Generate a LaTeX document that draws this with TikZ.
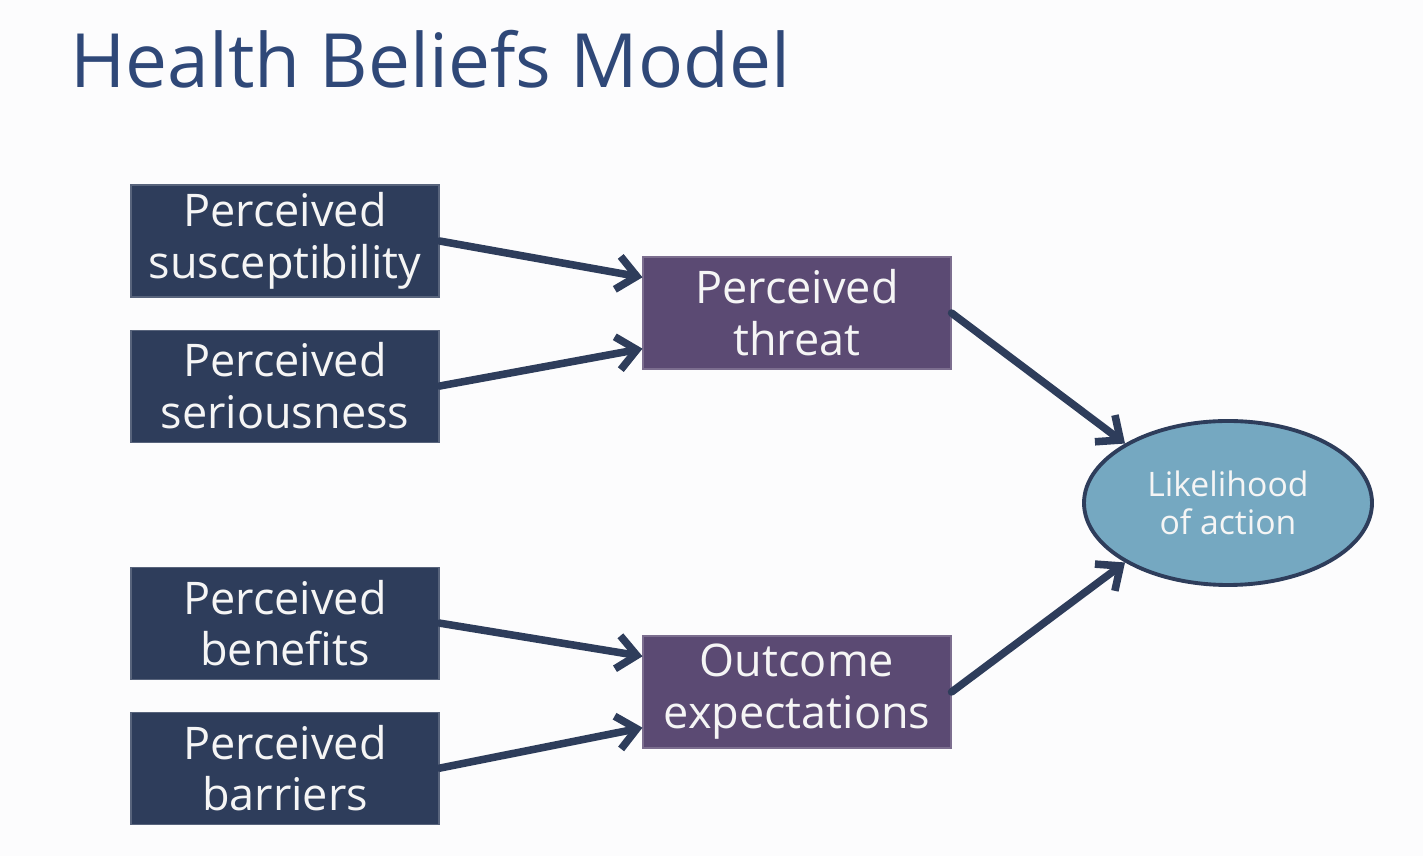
\documentclass[tikz,border=0pt]{standalone}
\usepackage{fontspec}
\setmainfont{Open Sans}
\usepackage{tikz}
\usetikzlibrary{shapes,arrows.meta,positioning,calc,shapes.geometric}

\definecolor{bgwhite}{HTML}{FCFCFD}
\definecolor{navybox}{HTML}{2E3D5B}
\definecolor{purplebox}{HTML}{5B4A73}
\definecolor{actionblue}{HTML}{75A8C1}
\definecolor{titleblue}{HTML}{2F4878}
\definecolor{boxtext}{HTML}{F5F5F5}

\begin{document}
\begin{tikzpicture}[
    belief/.style={rectangle, fill=navybox, draw=navybox!80!white, line width=0.6pt, minimum width=6.16cm, minimum height=2.24cm, inner sep=0pt, align=center, text=boxtext, font=\fontsize{25.6}{29.5}\selectfont},
    factor/.style={belief, fill=purplebox, draw=purplebox!80!white},
    outcome/.style={ellipse, fill=actionblue, draw=navybox, line width=2.2pt, minimum width=5.76cm, minimum height=3.28cm, inner sep=0pt, align=center, text=boxtext, font=\fontsize{19.2}{22}\selectfont},
    arrow/.style={-{Straight Barb[length=11pt, width=19pt]}, line width=4.3pt, line cap=round, draw=navybox}
]
    % background and page size
    \fill[bgwhite] (0,0) rectangle (28.46,17.12);
    \useasboundingbox (0,0) rectangle (28.46,17.12);

    \node[anchor=base west, text=titleblue, font=\fontsize{42.6}{48}\selectfont, inner sep=0pt] (title) at (1.40,15.36) {Health Beliefs Model};

    \node[belief] (sus) at (5.70,12.30) {Perceived\\susceptibility};
    \node[belief, below=0.64cm of sus] (ser) {Perceived\\seriousness};
    \node[belief, below=2.48cm of ser] (ben) {Perceived\\benefits};
    \node[belief, below=0.64cm of ben] (bar) {Perceived\\barriers};

    \node[factor] (threat) at (15.94,10.86) {Perceived\\threat};
    \node[factor] (expect) at (15.94,3.28) {Outcome\\expectations};

    \node[outcome] (likely) at (24.56,7.06) {Likelihood\\of action};

    \draw[arrow] (sus.east) -- (threat.167);
    \draw[arrow] (ser.east) -- (threat.193);
    \draw[arrow] (ben.east) -- (expect.167);
    \draw[arrow] (bar.east) -- (expect.193);
    \draw[arrow] (threat.east) -- (likely.150);
    \draw[arrow] (expect.east) -- (likely.210);
\end{tikzpicture}
\end{document}
